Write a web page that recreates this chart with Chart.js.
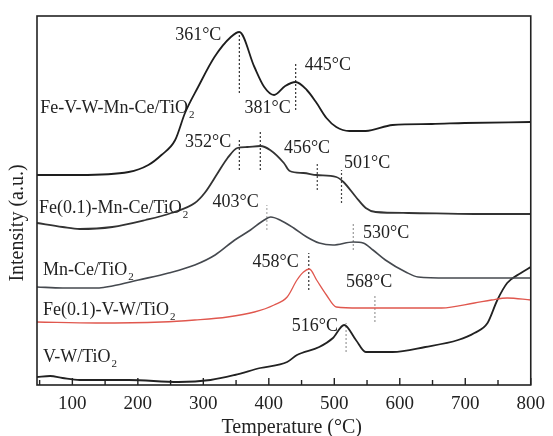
<!DOCTYPE html>
<html>
<head>
<meta charset="utf-8">
<script src="https://cdn.jsdelivr.net/npm/chart.js@4"></script>
<style>
  body { margin: 0; background: #fff; }
  #wrap { width: 553px; height: 436px; position: relative; }
</style>
</head>
<body>
<div id="wrap"><canvas id="tprChart"></canvas></div>
<script>
/* H2-TPR curves, intensity in arbitrary units */

const xTicks = [100, 200, 300, 400, 500, 600, 700, 800];

// Fe-V-W-Mn-Ce/TiO2
const feVWMnCeTemp = [46, 111, 186, 216, 236, 257, 272, 292, 317, 342, 355, 378, 393, 408, 425, 441, 458, 473, 488, 503, 523, 548, 589, 649, 699, 800];
const feVWMnCeInt  = [210, 210, 213, 220, 230, 245, 272, 298, 328, 348, 353, 318, 298, 290, 299, 303, 295, 282, 267, 258, 254, 254, 260, 261, 262, 263];

// Fe(0.1)-Mn-Ce/TiO2
const feMnCeTemp = [46, 85, 111, 161, 212, 251, 287, 302, 322, 337, 352, 367, 387, 402, 423, 432, 453, 473, 503, 514, 533, 548, 563, 613, 714, 800];
const feMnCeInt  = [162, 158, 156, 158, 165, 172, 182, 192, 212, 227, 237, 238, 239, 235, 222, 214, 212, 210, 208, 203, 188, 177, 173, 172, 171, 171];

// Mn-Ce/TiO2
const mnCeTemp = [46, 85, 141, 161, 201, 247, 287, 318, 348, 372, 393, 403, 417, 438, 458, 477, 498, 529, 544, 559, 578, 609, 628, 673, 800];
const mnCeInt  = [98, 97, 97, 99, 105, 112, 120, 130, 145, 155, 165, 168, 165, 157, 148, 142, 140, 143, 142, 135, 125, 113, 108, 107, 107];

// Fe(0.1)-V-W/TiO2
const feVWTemp = [46, 136, 236, 287, 337, 378, 408, 428, 443, 453, 462, 473, 488, 503, 538, 613, 664, 714, 740, 764, 800];
const feVWInt  = [63, 62, 63, 65, 68, 73, 80, 88, 105, 113, 116, 105, 90, 78, 77, 77, 77, 82, 85, 87, 85];

// V-W/TiO2
const vwTemp = [46, 66, 85, 111, 186, 262, 311, 348, 387, 428, 443, 477, 498, 515, 533, 548, 589, 639, 689, 714, 734, 749, 764, 785, 800];
const vwInt  = [8, 9, 7, 5, 5, 3, 5, 10, 17, 23, 30, 38, 47, 60, 45, 33, 33, 38, 45, 52, 62, 85, 102, 112, 118];

// dotted peak markers
const markTemp   = [355, 441, 355, 387, 474, 511, 397, 529, 461, 562, 518];
const markTop    = [352, 323, 245, 255, 223, 215, 180, 162, 132, 90, 62];
const markBottom = [292, 275, 215, 215, 195, 182, 155, 135, 95, 63, 33];
const markColor  = ['#333', '#333', '#333', '#333', '#444', '#444', '#aaa', '#999', '#333', '#999', '#999'];

// text labels [text, subscript, temp, intensity]
const labels = [
  ['361°C', '', 257, 350],
  ['445°C', '', 455, 320],
  ['Fe-V-W-Mn-Ce/TiO', '2', 51, 277],
  ['381°C', '', 363, 277],
  ['352°C', '', 272, 243],
  ['456°C', '', 423, 237],
  ['501°C', '', 515, 222],
  ['Fe(0.1)-Mn-Ce/TiO', '2', 49, 177],
  ['403°C', '', 314, 183],
  ['530°C', '', 544, 152],
  ['Mn-Ce/TiO', '2', 55, 115],
  ['458°C', '', 375, 123],
  ['568°C', '', 518, 103],
  ['Fe(0.1)-V-W/TiO', '2', 55, 75],
  ['516°C', '', 435, 59],
  ['V-W/TiO', '2', 55, 28]
];

const toPoints = (t, v) => t.map((x, i) => ({ x: x, y: v[i] }));

const curve = (label, t, v, color, width) => ({
  label: label,
  data: toPoints(t, v),
  borderColor: color,
  borderWidth: width,
  pointRadius: 0,
  cubicInterpolationMode: 'monotone',
  fill: false
});

const datasets = [
  curve('Fe-V-W-Mn-Ce/TiO2', feVWMnCeTemp, feVWMnCeInt, '#1e1e1e', 1.8),
  curve('Fe(0.1)-Mn-Ce/TiO2', feMnCeTemp, feMnCeInt, '#333333', 1.8),
  curve('Mn-Ce/TiO2', mnCeTemp, mnCeInt, '#45494f', 1.6),
  curve('Fe(0.1)-V-W/TiO2', feVWTemp, feVWInt, '#e0574e', 1.3),
  curve('V-W/TiO2', vwTemp, vwInt, '#222222', 1.8)
];

markTemp.forEach((t, i) => {
  datasets.push({
    label: 'mark' + i,
    data: [{ x: t, y: markBottom[i] }, { x: t, y: markTop[i] }],
    borderColor: markColor[i],
    borderWidth: 1.2,
    borderDash: [2, 2],
    pointRadius: 0
  });
});

const serif = '"Liberation Serif", "DejaVu Serif", serif';

const framePlugin = {
  id: 'frame',
  afterDatasetsDraw(chart) {
    const ctx = chart.ctx;
    const ca = chart.chartArea;
    const xs = chart.scales.x;
    const ys = chart.scales.y;
    ctx.save();

    // box
    ctx.strokeStyle = '#222';
    ctx.lineWidth = 1.6;
    ctx.strokeRect(ca.left, ca.top, ca.right - ca.left, ca.bottom - ca.top);

    // inward ticks
    ctx.lineWidth = 1.4;
    for (let v = 50; v <= 800; v += 50) {
      const px = xs.getPixelForValue(v);
      const len = v % 100 === 0 ? 7 : 5;
      ctx.beginPath();
      ctx.moveTo(px, ca.bottom);
      ctx.lineTo(px, ca.bottom - len);
      ctx.stroke();
    }

    // curve and peak labels
    ctx.fillStyle = '#222';
    ctx.textBaseline = 'middle';
    ctx.textAlign = 'left';
    labels.forEach(l => {
      const px = xs.getPixelForValue(l[2]);
      const py = ys.getPixelForValue(l[3]);
      ctx.font = '18px ' + serif;
      ctx.fillText(l[0], px, py);
      if (l[1]) {
        const w = ctx.measureText(l[0]).width;
        ctx.font = '11px ' + serif;
        ctx.fillText(l[1], px + w + 1, py + 7);
      }
    });

    // axis titles
    ctx.font = '20px ' + serif;
    ctx.textAlign = 'center';
    ctx.fillText('Temperature (°C)', xs.getPixelForValue(435), ca.bottom + 43);
    ctx.translate(18, ca.top + 207);
    ctx.rotate(-Math.PI / 2);
    ctx.fillText('Intensity (a.u.)', 0, 0);
    ctx.restore();
  }
};

new Chart(document.getElementById('tprChart'), {
  type: 'line',
  data: { datasets: datasets },
  options: {
    responsive: true,
    maintainAspectRatio: false,
    animation: false,
    layout: { padding: { left: 37, top: 16, right: 18, bottom: 0 } },
    plugins: {
      legend: { display: false },
      tooltip: { enabled: false }
    },
    scales: {
      x: {
        type: 'linear',
        min: 46,
        max: 800,
        afterBuildTicks: axis => { axis.ticks = xTicks.map(v => ({ value: v })); },
        afterFit: axis => { axis.height = 51; },
        grid: { display: false, drawTicks: false },
        border: { display: false },
        ticks: {
          padding: 8,
          color: '#222',
          font: { family: serif, size: 19 }
        }
      },
      y: {
        display: false,
        min: 0,
        max: 369
      }
    }
  },
  plugins: [framePlugin]
});
</script>
</body>
</html>
